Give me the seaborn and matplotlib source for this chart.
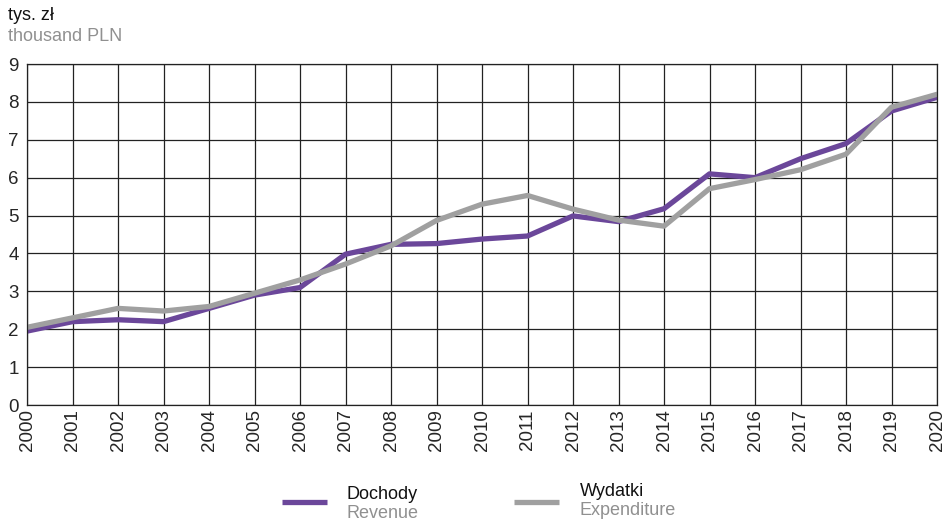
import pandas as pd
import matplotlib.pyplot as plt
import seaborn as sns
from matplotlib.lines import Line2D

sns.set_theme(style="white")
plt.rcParams['font.family'] = ['Liberation Sans', 'DejaVu Sans']

# Data (thousand PLN)
years = list(range(2000, 2021))
revenue = [1.95, 2.2, 2.25, 2.2, 2.55, 2.9, 3.1, 3.98, 4.24, 4.26, 4.38, 4.46, 4.99, 4.84, 5.18,
           6.1, 6.0, 6.5, 6.9, 7.76, 8.12]
expenditure = [2.05, 2.3, 2.55, 2.48, 2.6, 2.95, 3.3, 3.72, 4.2, 4.87, 5.3, 5.53, 5.17, 4.88, 4.72,
               5.71, 5.95, 6.21, 6.62, 7.86, 8.2]

purple = '#6B479A'
gray = '#A0A0A0'

df = pd.DataFrame({'year': years, 'revenue': revenue, 'expenditure': expenditure})

fig = plt.figure(figsize=(9.45, 5.21), dpi=100)
ax = fig.add_axes([27 / 945, 116 / 521, 910 / 945, 341 / 521])

sns.lineplot(data=df, x='year', y='revenue', color=purple, linewidth=3.8, ax=ax)
sns.lineplot(data=df, x='year', y='expenditure', color=gray, linewidth=3.8, ax=ax)

ax.set_xlim(2000, 2020)
ax.set_ylim(0, 9)
ax.set_xticks(years)
ax.set_xticklabels([str(y) for y in years], rotation=90, fontsize=13.5)
ax.set_yticks(range(0, 10))
ax.tick_params(axis='y', labelsize=13.5, length=0, pad=6)
ax.tick_params(axis='x', length=0, pad=3)
ax.set_xlabel('')
ax.set_ylabel('')
ax.grid(True, color='#222222', linewidth=0.9)
ax.set_axisbelow(True)
for s in ax.spines.values():
    s.set_color('#222222')
    s.set_linewidth(0.9)

# unit labels
fig.text(8 / 945, 1 - 20 / 521, 'tys. zł', fontsize=13, color='#111111', va='baseline')
fig.text(8 / 945, 1 - 41 / 521, 'thousand PLN', fontsize=13, color='#909090', va='baseline')

# legend drawn below the chart
fig.add_artist(Line2D([282 / 945, 327 / 945], [1 - 502 / 521] * 2, color=purple, linewidth=3.8,
                      solid_capstyle='butt', transform=fig.transFigure))
fig.text(347 / 945, 1 - 499 / 521, 'Dochody', fontsize=13, color='#111111', va='baseline')
fig.text(347 / 945, 1 - 518 / 521, 'Revenue', fontsize=13, color='#909090', va='baseline')
fig.add_artist(Line2D([514 / 945, 559 / 945], [1 - 502 / 521] * 2, color=gray, linewidth=3.8,
                      solid_capstyle='butt', transform=fig.transFigure))
fig.text(580 / 945, 1 - 496 / 521, 'Wydatki', fontsize=13, color='#111111', va='baseline')
fig.text(580 / 945, 1 - 515 / 521, 'Expenditure', fontsize=13, color='#909090', va='baseline')

plt.savefig('out.png', dpi=100)
